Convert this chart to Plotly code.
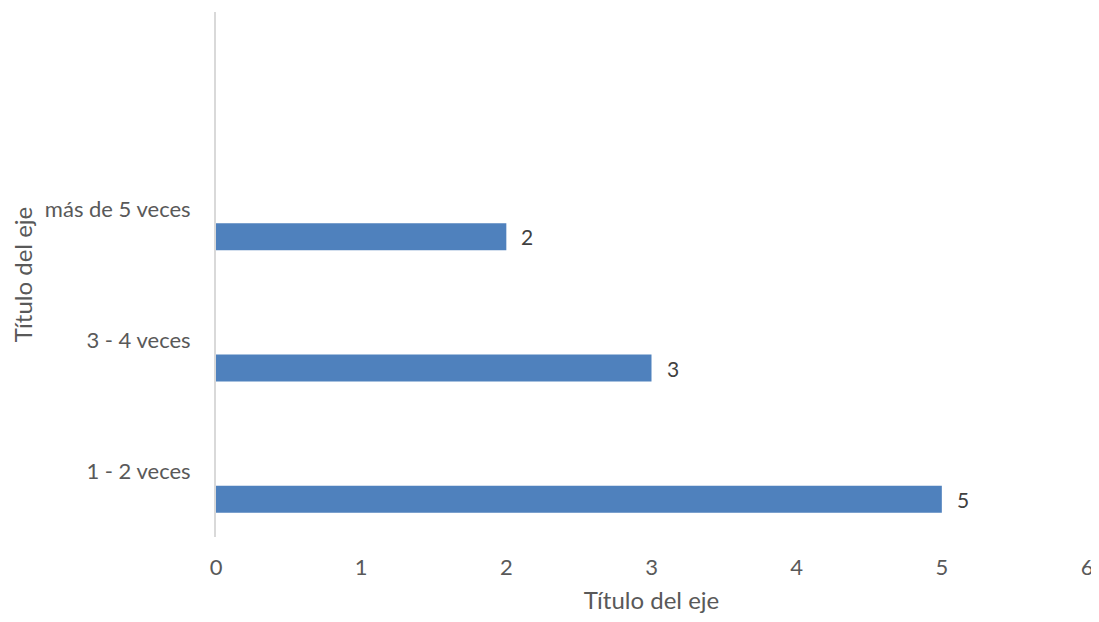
import plotly.graph_objects as go

categories = ["1 - 2 veces", "3 - 4 veces", "más de 5 veces", ""]
values = [5, 3, 2, None]
x_ticks = [0, 1, 2, 3, 4, 5, 6]

positions = list(range(len(categories)))
bar_offset = -0.316
bar_width = 0.206

px = [p for p, v in zip(positions, values) if v is not None]
vx = [v for v in values if v is not None]

FONT = "Lato, Carlito, sans-serif"

fig = go.Figure()
fig.add_trace(go.Bar(
    x=vx, y=px, orientation="h",
    offset=bar_offset, width=bar_width,
    marker=dict(color="#4F81BD", line=dict(width=0)),
    hoverinfo="x+y",
))

for p, v in zip(px, vx):
    fig.add_annotation(
        x=v, y=p + bar_offset + bar_width / 2, text=str(v),
        showarrow=False, xanchor="left", yanchor="middle", xshift=13,
        font=dict(family=FONT, size=21, color="#404040"),
    )

# page body has an 8px default margin; figure offset accordingly
fig.update_layout(
    width=1091, height=606,
    margin=dict(l=208, r=12, t=4, b=77),
    paper_bgcolor="white", plot_bgcolor="white",
    showlegend=False,
    font=dict(family=FONT, size=22, color="#595959"),
    xaxis=dict(
        range=[0, 6], tickvals=x_ticks, ticktext=[str(t) for t in x_ticks],
        showgrid=False, zeroline=False, showline=False, automargin=False,
        ticks="outside", ticklen=11, tickcolor="rgba(0,0,0,0)",
        ticklabeloverflow="allow",
        title=dict(text="Título del eje", font=dict(size=24, color="#595959"), standoff=18),
    ),
    yaxis=dict(
        range=[-0.5, 3.5], tickvals=positions, ticktext=categories,
        showgrid=False, zeroline=False, automargin=False,
        showline=True, linecolor="#d9d9d9", linewidth=2,
        ticks="outside", ticklen=19, tickcolor="rgba(0,0,0,0)",
        title=dict(text="Título del eje", font=dict(size=24, color="#595959"), standoff=10),
    ),
)

fig.write_html("out.html")
